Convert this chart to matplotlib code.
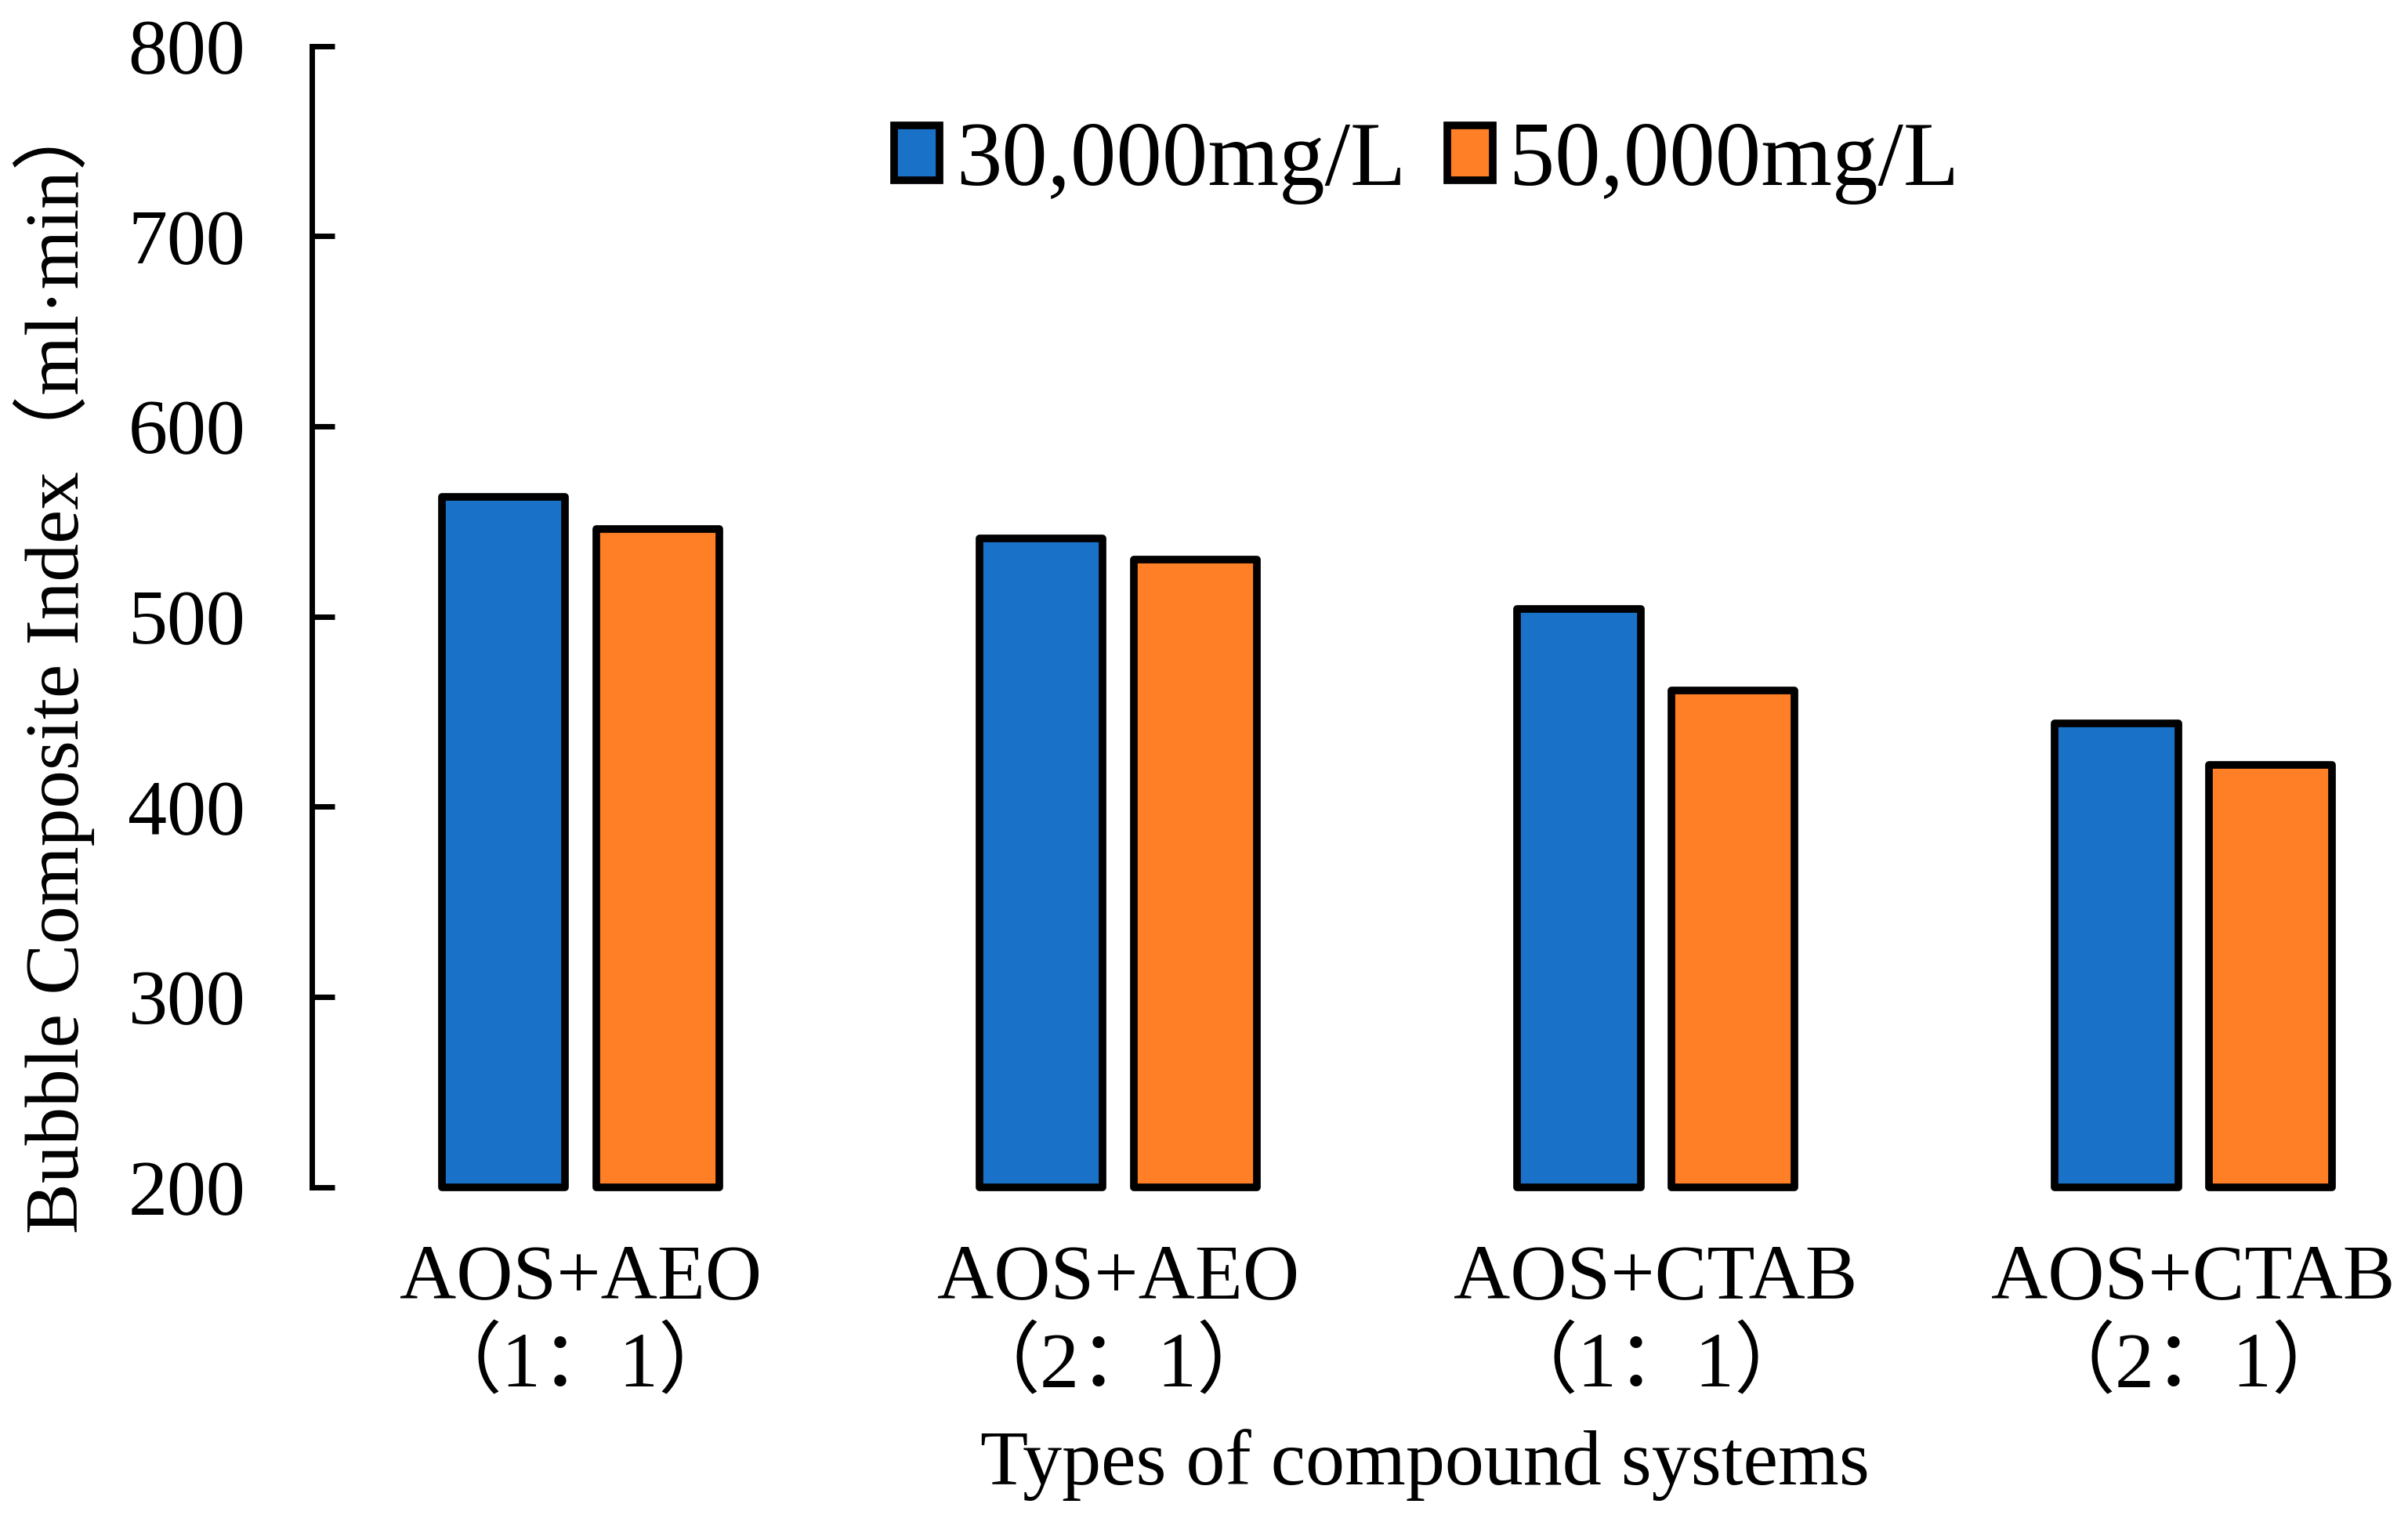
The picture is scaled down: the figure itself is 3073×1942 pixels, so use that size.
import numpy as np
import matplotlib
matplotlib.use("Agg")
import matplotlib.pyplot as plt
from matplotlib.patches import Patch

plt.rcParams['font.family'] = ['Liberation Serif', 'Noto Sans CJK SC']

# data
groups = ['AOS+AEO\n（1：1）', 'AOS+AEO\n（2：1）', 'AOS+CTAB\n（1：1）', 'AOS+CTAB\n（2：1）']
low_salt = [563, 541, 504, 444]    # 30,000mg/L
high_salt = [546, 530, 461, 422]   # 50,000mg/L
series_names = ['30,000mg/L', '50,000mg/L']
yticks = [200, 300, 400, 500, 600, 700, 800]

blue = '#1a72c8'
orange = '#ff7f27'

W, H = 3073, 1942
fig = plt.figure(figsize=(W / 100, H / 100), dpi=100)
ax = fig.add_axes([0.1295, 0.22, 0.893, 0.7497])

x = np.arange(len(groups))
bw = 0.229
off = 0.143
b1 = ax.bar(x - off, np.array(low_salt) - 200, bw, bottom=200, color=blue,
            edgecolor='black', linewidth=7, clip_on=False)
b2 = ax.bar(x + off, np.array(high_salt) - 200, bw, bottom=200, color=orange,
            edgecolor='black', linewidth=7, clip_on=False)
for b in list(b1) + list(b2):
    b.set_joinstyle('round')

ax.set_xlim(-0.5, 3.5)
ax.set_ylim(200, 800)
ax.set_yticks(yticks)
ax.set_xticks(x)
ax.set_xticklabels(groups, fontsize=72, linespacing=1.25)
ax.tick_params(axis='y', direction='in', length=21, width=5, labelsize=72, pad=61)
ax.tick_params(axis='x', length=0, pad=52)
for s in ['top', 'right', 'bottom']:
    ax.spines[s].set_visible(False)
ax.spines['left'].set_linewidth(5)

fig.text(35 / 1568, 1 - 432 / 990, 'Bubble Composite Index（ml·min）', rotation=90,
         ha='center', va='center', fontsize=70)
fig.text(928 / 1568, 1 - 953 / 990, 'Types of compound systems',
         ha='center', va='center', fontsize=72)

handles = [Patch(facecolor=blue, edgecolor='black', linewidth=7),
           Patch(facecolor=orange, edgecolor='black', linewidth=7)]
fig.legend(handles, series_names, loc='center', bbox_to_anchor=(929 / 1568, 1 - 106 / 990),
           ncol=2, frameon=False, fontsize=84, handlelength=0.5, handleheight=0.55,
           handletextpad=0.18, columnspacing=0.45)

fig.savefig('out.png', dpi=100)
